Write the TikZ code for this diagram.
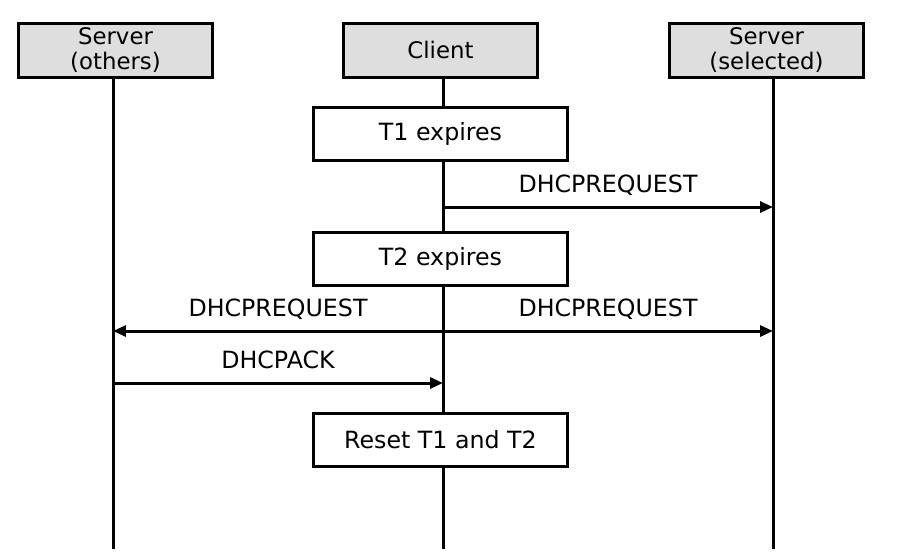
\documentclass[tikz,border=0pt]{standalone}
\usepackage{fontspec}
\setmainfont{DejaVu Sans}
\usetikzlibrary{arrows.meta}

\tikzset{
  actor/.style={draw, fill=black!13, line width=0.06cm, minimum width=3.9cm,
    minimum height=1.08cm, inner sep=0pt, align=center,
    font=\fontsize{13}{14}\selectfont},
  timerbox/.style={draw, fill=white, line width=0.06cm, minimum width=5.1cm,
    minimum height=1.06cm, inner sep=0pt, font=\fontsize{13.5}{16}\selectfont},
  msg/.style={line width=0.06cm, -{Triangle[length=0.26cm,width=0.22cm]}},
  msglabel/.style={inner sep=0pt, text depth=0pt, above=0.26cm,
    font=\fontsize{13.5}{16}\selectfont},
  lifeline/.style={line width=0.06cm}
}

\begin{document}
\begin{tikzpicture}[x=0.02cm, y=-0.02cm]
    \useasboundingbox (0,0) rectangle (905,559);

    % header boxes
    \node[actor] (others) at (115.5, 50){Server\\(others)};
    \node[actor] (client) at (440.5, 50){Client};
    \node[actor] (selected) at (766.5, 50){Server\\(selected)};

    % lifelines
    \coordinate (othersend) at (113, 549);
    \coordinate (clientend) at (443, 549);
    \coordinate (selectedend) at (773, 549);
    \draw[lifeline] (others.south -| othersend) -- (othersend);
    \draw[lifeline] (client.south -| clientend) -- (clientend);
    \draw[lifeline] (selected.south -| selectedend) -- (selectedend);

    % timer events on the client
    \node[timerbox] (tone) at (440.5, 133.5){T1 expires};
    \node[timerbox] (ttwo) at (440.5, 258.5){T2 expires};
    \node[timerbox] (reset) at (440.5, 439.5){Reset T1 and T2};

    % messages
    \coordinate (c1) at (443, 207);
    \coordinate (s1) at (773, 207);
    \draw[msg] (c1) -- (s1) node[midway, msglabel]{DHCPREQUEST};

    \coordinate (c2) at (443, 331);
    \coordinate (o2) at (113, 331);
    \coordinate (s2) at (773, 331);
    \draw[msg] (c2) -- (o2) node[midway, msglabel]{DHCPREQUEST};
    \draw[msg] (c2) -- (s2) node[midway, msglabel]{DHCPREQUEST};

    \coordinate (o3) at (113, 383);
    \coordinate (c3) at (443, 383);
    \draw[msg] (o3) -- (c3) node[midway, msglabel]{DHCPACK};
\end{tikzpicture}
\end{document}
